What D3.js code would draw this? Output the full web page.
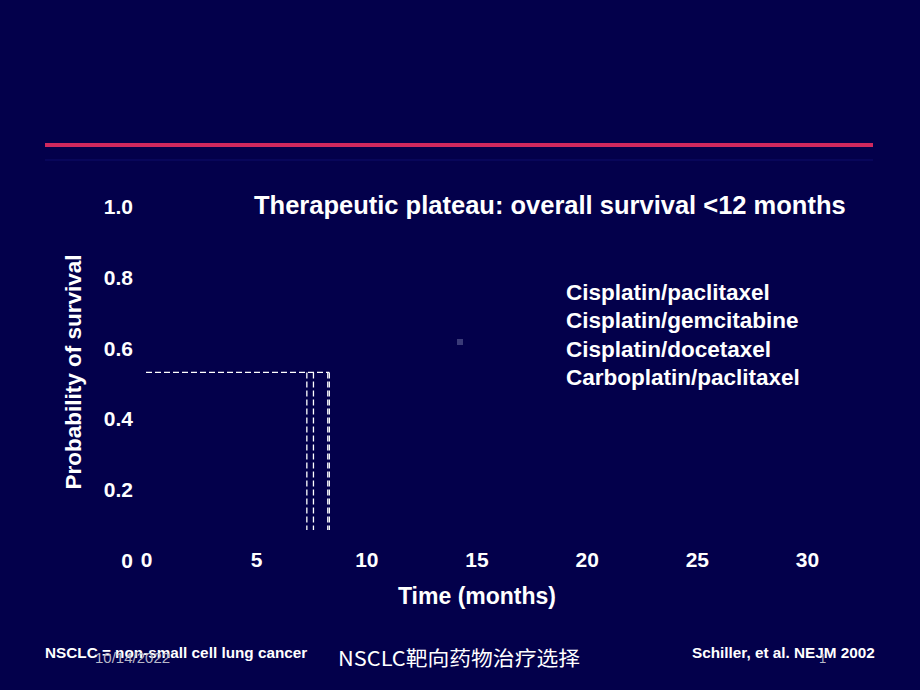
<!DOCTYPE html>
<html>
<head>
<meta charset="utf-8">
<script src="https://cdn.jsdelivr.net/npm/d3@7"></script>
<style>
html,body{margin:0;padding:0;background:#03004B;}
svg{display:block;}
</style>
</head>
<body>
<script>
// ---- data ----
const xTicks = [0, 5, 10, 15, 20, 25, 30];
const yTicks = [0, 0.2, 0.4, 0.6, 0.8, 1.0];
const yTickLabels = ["0", "0.2", "0.4", "0.6", "0.8", "1.0"];
const regimens = ["Cisplatin/paclitaxel", "Cisplatin/gemcitabine", "Cisplatin/docetaxel", "Carboplatin/paclitaxel"];
const medianMonths = [7.3, 7.6, 8.25, 8.32];
const medianSurvival = 0.53;
const dropLineEnd = 0.085;
const title = "Therapeutic plateau: overall survival <12 months";
const xTitle = "Time (months)";
const yTitle = "Probability of survival";
const footLeft = "NSCLC = non-small cell lung cancer";
const footDate = "10/14/2022";
const footCenter = "NSCLC靶向药物治疗选择";
const footRight = "Schiller, et al. NEJM 2002";

// ---- layout ----
const W = 920, H = 690;
const svg = d3.select("body").append("svg").attr("width", W).attr("height", H);
svg.append("rect").attr("width", W).attr("height", H).attr("fill", "#03004B");

// header rule
svg.append("line").attr("x1", 45).attr("x2", 873).attr("y1", 160).attr("y2", 160)
  .attr("stroke", "#08065a").attr("stroke-width", 2);
svg.append("line").attr("x1", 45).attr("x2", 873).attr("y1", 145).attr("y2", 145)
  .attr("stroke", "#D0285E").attr("stroke-width", 4);

const x = d3.scaleLinear().domain([0, 30]).range([146, 807]);
const y = d3.scaleLinear().domain([0, 1]).range([560, 206]);

const font = "'Liberation Sans', Arial, sans-serif";

// x axis labels
const xAxis = d3.axisBottom(x).tickValues(xTicks).tickSize(0).tickPadding(0).tickFormat(d3.format("d"));
const gx = svg.append("g").attr("transform", "translate(0,552)").call(xAxis);
gx.select(".domain").remove();
gx.selectAll("text").attr("fill", "#fff").attr("font-family", font).attr("font-weight", "bold")
  .attr("font-size", 21).attr("dy", "0.71em");

// y axis labels
const yAxis = d3.axisLeft(y).tickValues(yTicks).tickSize(0).tickPadding(0)
  .tickFormat((d, i) => yTickLabels[i]);
const gy = svg.append("g").attr("transform", "translate(133,0)").call(yAxis);
gy.select(".domain").remove();
gy.selectAll("text").attr("fill", "#fff").attr("font-family", font).attr("font-weight", "bold")
  .attr("font-size", 21).attr("dy", "0.36em");

// axis titles
svg.append("text").attr("x", 477).attr("y", 604).attr("text-anchor", "middle")
  .attr("fill", "#fff").attr("font-family", font).attr("font-weight", "bold").attr("font-size", 23)
  .text(xTitle);
svg.append("text").attr("transform", "translate(81,372) rotate(-90)").attr("text-anchor", "middle")
  .attr("fill", "#fff").attr("font-family", font).attr("font-weight", "bold").attr("font-size", 22.5)
  .text(yTitle);

// chart title
svg.append("text").attr("x", 254).attr("y", 214)
  .attr("fill", "#fff").attr("font-family", font).attr("font-weight", "bold").attr("font-size", 25.5)
  .text(title);

// legend list
svg.append("g").selectAll("text").data(regimens).join("text")
  .attr("x", 566).attr("y", (d, i) => 300 + i * 28.3)
  .attr("fill", "#fff").attr("font-family", font).attr("font-weight", "bold").attr("font-size", 22.5)
  .text(d => d);

// dashed median lines
const maxM = d3.max(medianMonths);
svg.append("line")
  .attr("x1", x(0)).attr("x2", x(maxM)).attr("y1", y(medianSurvival)).attr("y2", y(medianSurvival))
  .attr("stroke", "#fff").attr("stroke-width", 1.3).attr("stroke-dasharray", "6,3");
svg.append("g").selectAll("line").data(medianMonths).join("line")
  .attr("x1", d => x(d)).attr("x2", d => x(d))
  .attr("y1", y(medianSurvival)).attr("y2", y(dropLineEnd))
  .attr("stroke", "#fff").attr("stroke-width", 1.3).attr("stroke-dasharray", "6,3");

// small artifacts
svg.append("rect").attr("x", 457).attr("y", 339).attr("width", 6).attr("height", 6).attr("fill", "#3a3a78");

// footer
svg.append("text").attr("x", 45).attr("y", 658)
  .attr("fill", "#fff").attr("font-family", font).attr("font-weight", "bold").attr("font-size", 15.3)
  .text(footLeft);
svg.append("text").attr("x", 95).attr("y", 663)
  .attr("fill", "#b8b8c8").attr("font-family", font).attr("font-size", 15)
  .text(footDate);
svg.append("text").attr("x", 338).attr("y", 666)
  .attr("fill", "#fff").attr("font-family", "'Noto Sans CJK SC', sans-serif").attr("font-size", 20)
  .attr("textLength", 242).attr("lengthAdjust", "spacingAndGlyphs")
  .text(footCenter);
svg.append("text").attr("x", 692).attr("y", 658)
  .attr("fill", "#fff").attr("font-family", font).attr("font-weight", "bold").attr("font-size", 15.3)
  .text(footRight);
svg.append("text").attr("x", 819).attr("y", 663)
  .attr("fill", "#b8b8c8").attr("font-family", font).attr("font-size", 13)
  .text("1");
</script>
</body>
</html>
